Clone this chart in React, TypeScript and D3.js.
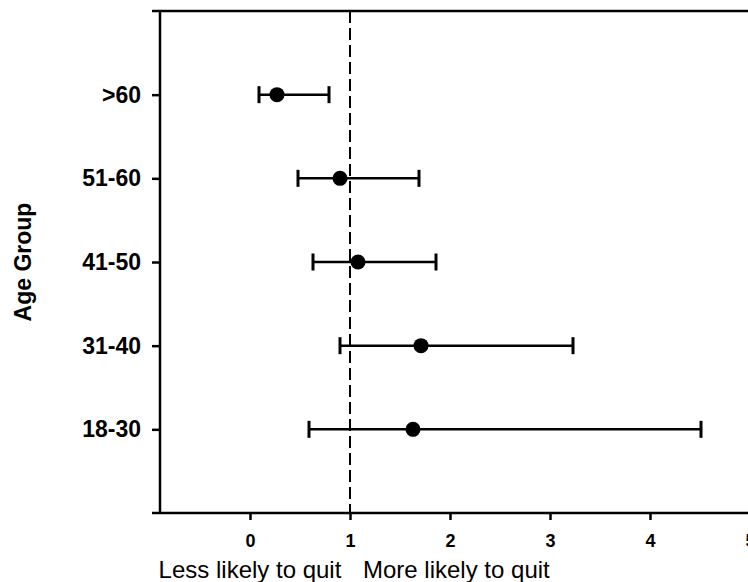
import React, { useEffect, useRef } from 'react';
import * as d3 from 'd3';

// age groups, bottom to top
const groups = ['18-30', '31-40', '41-50', '51-60', '>60'];
const estimate = [1.63, 1.71, 1.08, 0.90, 0.27];
const lower = [0.59, 0.90, 0.63, 0.48, 0.09];
const upper = [4.51, 3.23, 1.86, 1.69, 0.79];
const xTicks = [0, 1, 2, 3, 4, 5];

const App = () => {
  const chart = useRef<SVGSVGElement>(null);

  useEffect(() => {
    const svg = d3.select(chart.current);
    svg.selectAll('*').remove();

    const x = d3.scaleLinear().domain([-0.9, 5.2]).range([160, 770]);
    const y = d3.scaleLinear().domain([0, 6]).range([513, 11]);

    const data = groups.map((g, i) => ({
      group: g,
      pos: i + 1,
      est: estimate[i],
      lo: lower[i],
      hi: upper[i],
    }));

    // top frame line
    svg.append('line')
      .attr('x1', 152).attr('x2', x(5.2))
      .attr('y1', y(6)).attr('y2', y(6))
      .attr('stroke', 'black').attr('stroke-width', 2.5);

    // y axis
    const yAxis = svg.append('g')
      .attr('transform', `translate(${x(-0.9)},0)`)
      .call(
        d3.axisLeft(y)
          .tickValues(data.map(d => d.pos))
          .tickFormat((d, i) => groups[i])
          .tickSize(8)
          .tickPadding(11)
      );
    yAxis.select('.domain').remove();
    yAxis.append('line')
      .attr('x1', 0).attr('x2', 0)
      .attr('y1', y(6)).attr('y2', y(0))
      .attr('stroke', 'black').attr('stroke-width', 2.5);
    yAxis.selectAll('.tick line').attr('stroke-width', 2.5);
    yAxis.selectAll('text')
      .attr('font-family', 'Liberation Sans, Arial, sans-serif')
      .attr('font-weight', 'bold')
      .style('font-size', '23px')
      .attr('fill', 'black');

    // x axis
    const xAxis = svg.append('g')
      .attr('transform', `translate(0,${y(0)})`)
      .call(
        d3.axisBottom(x)
          .tickValues(xTicks)
          .tickFormat(d3.format('d'))
          .tickSize(7)
          .tickPadding(14)
      );
    xAxis.select('.domain').remove();
    xAxis.append('line')
      .attr('x1', 152).attr('x2', x(5.2))
      .attr('stroke', 'black').attr('stroke-width', 2.5);
    xAxis.selectAll('.tick line').attr('stroke-width', 2.5);
    xAxis.selectAll('text')
      .attr('font-family', 'Liberation Sans, Arial, sans-serif')
      .attr('font-weight', 'bold')
      .style('font-size', '18px')
      .attr('fill', 'black');

    // reference line at 1
    svg.append('line')
      .attr('x1', x(1)).attr('x2', x(1))
      .attr('y1', y(6)).attr('y2', y(0))
      .attr('stroke', 'black')
      .attr('stroke-width', 2)
      .attr('stroke-dasharray', '12,5');

    // error bars
    const bars = svg.append('g')
      .selectAll('g')
      .data(data)
      .join('g');

    bars.append('line')
      .attr('x1', d => x(d.lo)).attr('x2', d => x(d.hi))
      .attr('y1', d => y(d.pos)).attr('y2', d => y(d.pos))
      .attr('stroke', 'black').attr('stroke-width', 2.5);

    bars.selectAll('line.cap')
      .data(d => [{ v: d.lo, p: d.pos }, { v: d.hi, p: d.pos }])
      .join('line')
        .attr('class', 'cap')
        .attr('x1', d => x(d.v)).attr('x2', d => x(d.v))
        .attr('y1', d => y(d.p) - 8.5).attr('y2', d => y(d.p) + 8.5)
        .attr('stroke', 'black').attr('stroke-width', 3);

    bars.append('circle')
      .attr('cx', d => x(d.est))
      .attr('cy', d => y(d.pos))
      .attr('r', 7.5)
      .attr('fill', 'black');

    // titles
    svg.append('text')
      .attr('transform', 'translate(31,262) rotate(-90)')
      .attr('text-anchor', 'middle')
      .attr('font-family', 'Liberation Sans, Arial, sans-serif')
      .attr('font-weight', 'bold')
      .attr('font-size', 23)
      .text('Age Group');

    svg.append('text')
      .attr('x', x(0)).attr('y', 578)
      .attr('text-anchor', 'middle')
      .attr('font-family', 'Liberation Sans, Arial, sans-serif')
      .attr('font-size', 24)
      .text('Less likely to quit');

    svg.append('text')
      .attr('x', 363).attr('y', 578)
      .attr('font-family', 'Liberation Sans, Arial, sans-serif')
      .attr('font-size', 24)
      .text('More likely to quit');
  }, []);

  return (
    <svg
      ref={chart}
      width={748}
      height={582}
      style={{ position: 'absolute', left: 0, top: 0, background: 'white' }}
    ></svg>
  );
};

export default App;
